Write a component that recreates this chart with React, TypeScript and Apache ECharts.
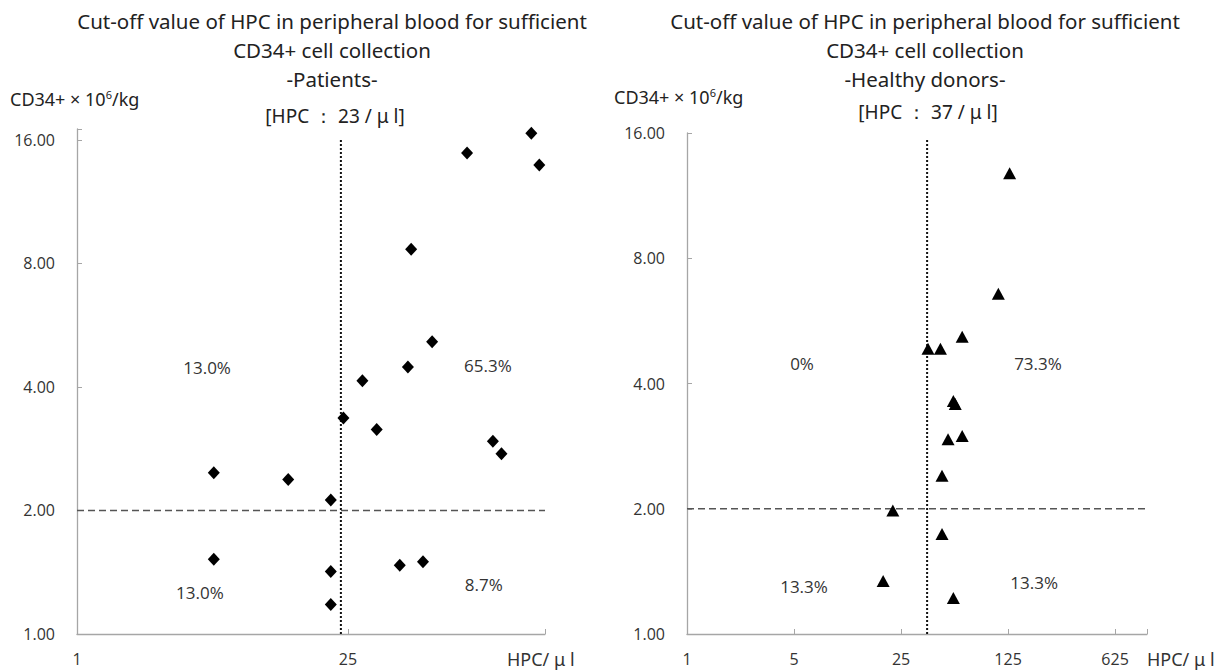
import React, { useEffect, useRef } from "react";
import * as echarts from "echarts";

// ---- Data (HPC per µl, CD34+ x10^6/kg) ----
const PATIENT_HPC = [221, 103, 243, 53, 68, 51, 29.7, 23.7, 35.2, 140, 155, 5.08, 12.3, 20.4, 5.08, 20.4, 46.3, 61, 20.4];
const PATIENT_CD34 = [16.6, 14.85, 13.9, 8.66, 5.15, 4.47, 4.14, 3.36, 3.15, 2.95, 2.75, 2.47, 2.38, 2.12, 1.52, 1.42, 1.47, 1.5, 1.18];

const DONOR_HPC = [128, 108, 62.7, 37.5, 45.2, 54.9, 56.5, 50.7, 62.7, 46.3, 22.1, 46.3, 19.1, 54.9];
const DONOR_CD34 = [12.8, 6.57, 5.18, 4.85, 4.85, 3.63, 3.57, 2.94, 2.99, 2.4, 1.98, 1.74, 1.34, 1.22];

const PATIENT_CUTOFF = 23;
const DONOR_CUTOFF = 37;
const CD34_CUTOFF = 2;

const Y_TICKS = [1, 2, 4, 8, 16];
const LEFT_X_TICKS = [1, 25];
const RIGHT_X_TICKS = [1, 5, 25, 125, 625];

const LEFT_PCT_TEXT = ["13.0%", "65.3%", "13.0%", "8.7%"];
const LEFT_PCT_X = [4.69, 132, 4.31, 125.7];
const LEFT_PCT_Y = [4.45, 4.5, 1.26, 1.32];

const RIGHT_PCT_TEXT = ["0%", "73.3%", "13.3%", "13.3%"];
const RIGHT_PCT_X = [5.64, 196, 5.81, 185];
const RIGHT_PCT_Y = [4.46, 4.46, 1.3, 1.33];

const TITLE_LINES = ["Cut-off value of HPC in peripheral blood for sufficient", "CD34+ cell collection"];
const LEFT_SUB = "-Patients-";
const RIGHT_SUB = "-Healthy donors-";

const near = (arr: number[], v: number) => arr.some((t) => Math.abs(t - v) < 1e-6 * Math.max(1, t));

const TICK_FONT = "'Open Sans', sans-serif";
const TITLE_FONT = "'Noto Sans', sans-serif";

export default function App() {
  const ref = useRef<HTMLDivElement>(null);

  useEffect(() => {
    if (!ref.current) return;
    const chart = echarts.init(ref.current, undefined, { renderer: "svg" });

    const axisLine = { show: true, lineStyle: { color: "#a6a6a6", width: 1.3 } };
    const axisTick = { show: true, inside: true, length: 5, lineStyle: { color: "#a6a6a6", width: 1 } };

    const yAxisBase = (gridIndex: number, max: number) => ({
      type: "log" as const,
      logBase: 2,
      min: 1,
      max,
      gridIndex,
      axisLine,
      axisTick,
      splitLine: { show: false },
      axisLabel: {
        margin: 22,
        fontFamily: TICK_FONT,
        fontSize: 16,
        color: "#333",
        formatter: (v: number) => (near(Y_TICKS, v) ? v.toFixed(2) : ""),
      },
    });

    const xAxisBase = (gridIndex: number, base: number, max: number, ticks: number[]) => ({
      type: "log" as const,
      logBase: base,
      min: 1,
      max,
      gridIndex,
      axisLine,
      axisTick,
      splitLine: { show: false },
      axisLabel: {
        margin: 17,
        fontFamily: TICK_FONT,
        fontSize: 16,
        color: "#333",
        formatter: (v: number) => (near(ticks, v) ? String(Math.round(v)) : ""),
      },
    });

    const pctSeries = (xi: number, texts: string[], xs: number[], ys: number[]) => ({
      type: "scatter",
      xAxisIndex: xi,
      yAxisIndex: xi,
      symbolSize: 0,
      silent: true,
      itemStyle: { opacity: 1 },
      data: texts.map((t, i) => ({ value: [xs[i], ys[i]], name: t })),
      label: {
        show: true,
        position: "inside",
        formatter: (p: any) => p.name,
        fontFamily: TICK_FONT,
        fontSize: 17,
        color: "#333",
        opacity: 1,
      },
    });

    const lineSeries = (xi: number, data: number[][], style: any) => ({
      type: "line",
      xAxisIndex: xi,
      yAxisIndex: xi,
      data,
      symbol: "none",
      silent: true,
      clip: false,
      lineStyle: style,
      z: 1,
    });

    const dotted = { color: "#111", width: 2, type: [2, 2] };
    const dashed = { color: "#555", width: 1.6, type: [7, 4] };

    const titleStyle = { fontFamily: TITLE_FONT, fontSize: 20.5, fontWeight: "normal", color: "#222", lineHeight: 29 };
    const cdText = (left: number, top: number) => ({
      type: "text",
      left,
      top,
      style: {
        text: "CD34+ × 10{sup|6}/kg",
        fontFamily: TITLE_FONT,
        fontSize: 18,
        fill: "#222",
        rich: { sup: { fontSize: 11, verticalAlign: "top", padding: [0, 0, 9, 0], fontFamily: TITLE_FONT, fill: "#222" } },
      },
    });

    const option: any = {
      animation: false,
      backgroundColor: "#fff",
      title: [
        {
          text: [...TITLE_LINES, LEFT_SUB].join("\n"),
          left: 332,
          top: 6,
          padding: 0,
          textAlign: "center",
          textStyle: titleStyle,
        },
        {
          text: [...TITLE_LINES, RIGHT_SUB].join("\n"),
          left: 925,
          top: 6,
          padding: 0,
          textAlign: "center",
          textStyle: titleStyle,
        },
      ],
      grid: [
        { left: 77, top: 129, width: 468, height: 505 },
        { left: 687, top: 133, width: 460, height: 501 },
      ],
      xAxis: [xAxisBase(0, 25, 260, LEFT_X_TICKS), xAxisBase(1, 5, 1010, RIGHT_X_TICKS)],
      yAxis: [yAxisBase(0, 17), yAxisBase(1, 16)],
      graphic: [
        cdText(10, 89),
        cdText(614, 87),
        {
          type: "text",
          x: 335,
          y: 116,
          style: { text: "[HPC ： 23 / μ l]", fontFamily: TITLE_FONT, fontSize: 19, fill: "#222", align: "center", verticalAlign: "middle" },
        },
        {
          type: "text",
          x: 928,
          y: 112,
          style: { text: "[HPC ： 37 / μ l]", fontFamily: TITLE_FONT, fontSize: 19, fill: "#222", align: "center", verticalAlign: "middle" },
        },
        {
          type: "text",
          x: 507,
          y: 659,
          style: { text: "HPC/ μ l", fontFamily: TITLE_FONT, fontSize: 18, fill: "#333", verticalAlign: "middle" },
        },
        {
          type: "text",
          x: 1147,
          y: 659,
          style: { text: "HPC/ μ l", fontFamily: TITLE_FONT, fontSize: 18, fill: "#333", verticalAlign: "middle" },
        },
      ],
      series: [
        lineSeries(0, [[PATIENT_CUTOFF, 1], [PATIENT_CUTOFF, 16]], dotted),
        lineSeries(0, [[1, CD34_CUTOFF], [260, CD34_CUTOFF]], dashed),
        lineSeries(1, [[DONOR_CUTOFF, 1], [DONOR_CUTOFF, 15.5]], dotted),
        lineSeries(1, [[1, CD34_CUTOFF], [1140, CD34_CUTOFF]], dashed),
        {
          type: "scatter",
          xAxisIndex: 0,
          yAxisIndex: 0,
          symbol: "diamond",
          symbolSize: [12, 13],
          itemStyle: { color: "#000", opacity: 1 },
          data: PATIENT_HPC.map((x, i) => [x, PATIENT_CD34[i]]),
          z: 3,
        },
        {
          type: "scatter",
          xAxisIndex: 1,
          yAxisIndex: 1,
          symbol: "triangle",
          symbolSize: [13, 12],
          itemStyle: { color: "#000", opacity: 1 },
          data: DONOR_HPC.map((x, i) => [x, DONOR_CD34[i]]),
          z: 3,
        },
        pctSeries(0, LEFT_PCT_TEXT, LEFT_PCT_X, LEFT_PCT_Y),
        pctSeries(1, RIGHT_PCT_TEXT, RIGHT_PCT_X, RIGHT_PCT_Y),
      ],
    };

    chart.setOption(option);
    return () => chart.dispose();
  }, []);

  return (
    <div
      ref={ref}
      style={{ position: "fixed", left: 0, top: 0, width: 1229, height: 671, background: "#fff" }}
    />
  );
}
